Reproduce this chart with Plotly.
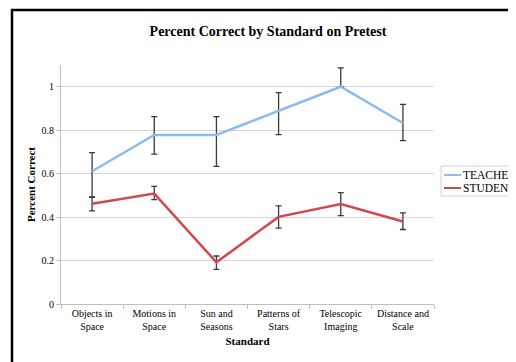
import plotly.graph_objects as go

categories = ["Objects in<br>Space", "Motions in<br>Space", "Sun and<br>Seasons",
              "Patterns of<br>Stars", "Telescopic<br>Imaging", "Distance and<br>Scale"]
teacher = [0.611, 0.778, 0.778, 0.889, 1.0, 0.833]
teacher_err_plus = [0.086, 0.084, 0.084, 0.084, 0.087, 0.086]
teacher_err_minus = [0.118, 0.088, 0.145, 0.109, 0.0, 0.081]
student = [0.461, 0.508, 0.192, 0.401, 0.460, 0.380]
student_err_plus = [0.030, 0.033, 0.029, 0.051, 0.053, 0.039]
student_err_minus = [0.032, 0.028, 0.033, 0.052, 0.053, 0.037]
series_names = ["TEACHER", "STUDENT"]
colors = ["#8DBCEB", "#D2484C"]

FONT = "Liberation Serif"
O = 8  # page body margin offset
W, H = 516 - O, 362 - O
L, T = 61 - O, 65 - O
PR, PB = 434 - O, 304 - O
R, B = W - PR, H - PB
pw, ph = PR - L, PB - T

def px_x(px):
    return (px - O - L) / pw

def px_y(py):
    return (PB - (py - O)) / ph

fig = go.Figure()
for name, vals, ep, em, col in [
    (series_names[0], teacher, teacher_err_plus, teacher_err_minus, colors[0]),
    (series_names[1], student, student_err_plus, student_err_minus, colors[1]),
]:
    fig.add_trace(go.Scatter(
        x=categories, y=vals, mode="lines", name=name,
        line=dict(color=col, width=2.5),
        error_y=dict(type="data", symmetric=False, array=ep, arrayminus=em,
                     color="#3a3a3a", thickness=1.3, width=3),
        showlegend=False,
    ))

shapes = [
    # outer frame (left and top)
    dict(type="line", xref="paper", yref="paper", x0=px_x(12), x1=px_x(12),
         y0=px_y(9), y1=px_y(400), line=dict(color="black", width=2.5)),
    dict(type="line", xref="paper", yref="paper", x0=px_x(11), x1=px_x(600),
         y0=px_y(10), y1=px_y(10), line=dict(color="black", width=2.5)),
    # legend box
    dict(type="rect", xref="paper", yref="paper", x0=px_x(441), x1=px_x(530),
         y0=px_y(166), y1=px_y(196), line=dict(color="#d0d0d0", width=1),
         fillcolor="white"),
]
annotations = []
leg_rows = [175, 188]
for i, (name, col) in enumerate(zip(series_names, colors)):
    y = leg_rows[i]
    shapes.append(dict(type="line", xref="paper", yref="paper",
                       x0=px_x(444), x1=px_x(461), y0=px_y(y), y1=px_y(y),
                       line=dict(color=col, width=2)))
    annotations.append(dict(text=name, xref="paper", yref="paper",
                            x=px_x(461), y=px_y(y), xanchor="left", yanchor="middle",
                            showarrow=False, font=dict(family=FONT, size=11.5, color="black")))

fig.update_layout(
    width=W, height=H,
    margin=dict(l=L, r=R, t=T, b=B, pad=0),
    paper_bgcolor="white", plot_bgcolor="white",
    font=dict(family=FONT, size=10, color="black"),
    title=dict(text="<b>Percent Correct by Standard on Pretest</b>",
               x=(268 - O) / W, xanchor="center", xref="container",
               y=1 - (31 - O) / H, yanchor="middle", yref="container",
               font=dict(family=FONT, size=14, color="black")),
    xaxis=dict(
        title=dict(text="<b>Standard</b>", font=dict(family=FONT, size=11), standoff=6),
        showgrid=False, showline=True, linecolor="#bfbfbf", linewidth=1,
        ticks="outside", tickson="boundaries", ticklen=4, tickcolor="#bfbfbf",
        tickfont=dict(family=FONT, size=10), range=[-0.5, 5.5],
    ),
    yaxis=dict(
        title=dict(text="<b>Percent Correct</b>", font=dict(family=FONT, size=11), standoff=3),
        range=[0, 1.1], tickvals=[0, 0.2, 0.4, 0.6, 0.8, 1.0],
        ticktext=["0", "0.2", "0.4", "0.6", "0.8", "1"],
        showgrid=True, gridcolor="#d6d6d6", gridwidth=1,
        showline=True, linecolor="#bfbfbf", linewidth=1,
        ticks="outside", ticklen=4, tickcolor="#bfbfbf",
        zeroline=False, tickfont=dict(family=FONT, size=10),
    ),
    shapes=shapes,
    annotations=annotations,
)

fig.write_html("out.html")
